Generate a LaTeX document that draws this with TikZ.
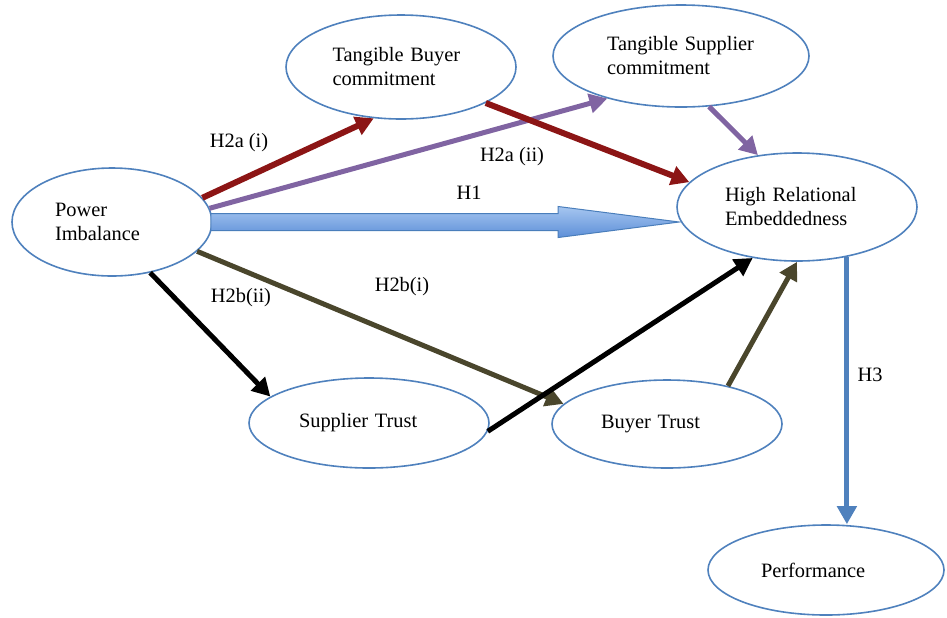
\documentclass[tikz,border=0pt]{standalone}
\usepackage{fontspec}
\setmainfont{Liberation Serif}
\usetikzlibrary{shapes.geometric, arrows.meta, calc}
\definecolor{ellline}{HTML}{4F81BD}
\definecolor{redarrow}{HTML}{8C1515}
\definecolor{purparrow}{HTML}{8064A2}
\definecolor{olivearrow}{HTML}{4A462C}
\definecolor{bluearrow}{HTML}{4F81BD}
\definecolor{hotop}{HTML}{A6C6F0}
\definecolor{hobot}{HTML}{5D8FD8}
\definecolor{holine}{HTML}{4A7EBB}

\begin{document}
\begin{tikzpicture}[
  x=0.5pt, y=-0.5pt,
  font=\fontsize{10.2}{12}\selectfont,
  ell/.style  = {ellipse, draw=ellline, line width=0.8pt, fill=white, align=left, inner sep=0pt},
  hyp/.style  = {inner sep=1pt},
  link/.style = {-{Triangle[length=9pt, width=9.5pt]}, line width=2.5pt},
  bold/.style = {link, line width=3pt},
  block/.style = {top color=hotop, bottom color=hobot, draw=holine, line width=0.5pt},
]
\useasboundingbox (0,0) rectangle (947,617);

%% ---------------------------------------------------------------- constructs
\node[ell, minimum width=100pt, minimum height=54pt, text width=57pt]   (pow)  at (112,222) {Power\\Imbalance};
\node[ell, minimum width=115pt, minimum height=52pt, text width=68.5pt] (tbc)  at (401,67)  {Tangible Buyer\\commitment};
\node[ell, minimum width=128pt, minimum height=51pt, text width=74pt]   (tsc)  at (681,56)  {Tangible~Supplier\\commitment};
\node[ell, minimum width=120pt, minimum height=54pt, text width=72pt]   (hre)  at (797,207) {High Relational\\Embeddedness};
\node[ell, minimum width=120pt, minimum height=45pt, text width=70pt]   (st)   at (369,423) {Supplier Trust};
\node[ell, minimum width=115pt, minimum height=44pt, text width=66pt]   (bt)   at (667,424) {Buyer Trust};
\node[ell, minimum width=118pt, minimum height=45pt, text width=65pt]   (perf) at (826,570) {Performance};

%% ---------------------------------------------------------------- H1 block arrow
\coordinate (h1s) at (pow.east);
\coordinate (h1e) at (hre.west |- pow.east);
\path[block] ($(h1s)+(-2,8.5)$) -- ($(h1e)+(-118,8.5)$) -- ($(h1e)+(-118,15.5)$) -- ($(h1e)+(3,0)$)
  -- ($(h1e)+(-118,-15.5)$) -- ($(h1e)+(-118,-8.5)$) -- ($(h1s)+(-2,-8.5)$) -- cycle;

%% ---------------------------------------------------------------- paths
\draw[link, purparrow] (pow.8) -- (tsc.-150);
\draw[bold, redarrow] (pow.15) -- (tbc.-118);
\draw[bold, redarrow] (tbc.-23) -- (hre.167);
\draw[link, purparrow] (tsc.-61) -- (hre.127);
\draw[link, olivearrow] (pow.-19) -- (bt.169);
\draw[link, black] (pow.-53) -- (st.165);
\draw[link, black] (st.-4) -- (hre.-131);
\draw[link, olivearrow] (bt.32) -- (hre.south);
\draw[link, bluearrow] (hre.-45) -- (hre.-45 |- perf.north);

%% ---------------------------------------------------------------- labels
\node[hyp] (l2ai)  at (239,143) {H2a (i)};
\node[hyp] (l2aii) at (512,157) {H2a (ii)};
\node[hyp] (lh1)   at (469,193) {H1};
\node[hyp] (l2bii) at (241,298) {H2b(ii)};
\node[hyp] (l2bi)  at (402,287) {H2b(i)};
\node[hyp] (lh3)   at (870,375) {H3};
\end{tikzpicture}
\end{document}
